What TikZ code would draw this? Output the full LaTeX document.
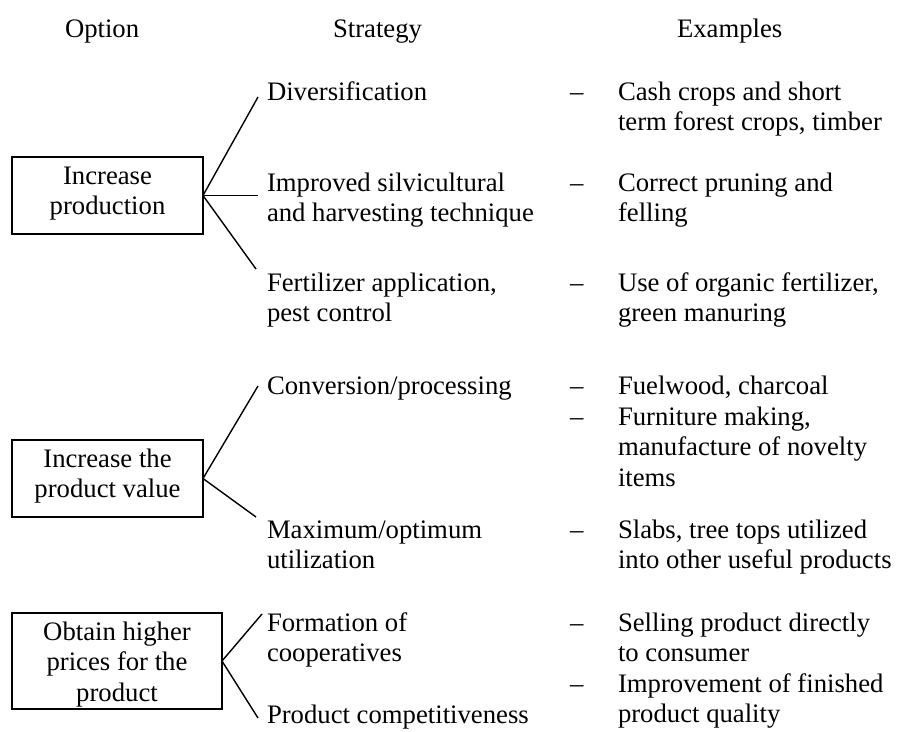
\documentclass[tikz,border=0pt]{standalone}
\usepackage{fontspec}
\setmainfont{Liberation Serif}
\newcommand\leftlines[1]{\vtop{\halign{##\hfil\cr#1\crcr}}}
\newcommand\ctrlines[1]{\vtop{\halign{\hfil##\hfil\cr#1\crcr}}}
\begin{document}
\begin{tikzpicture}[x=1pt,y=-1pt,
  every node/.style={font=\fontsize{26.7}{30.7}\selectfont, inner sep=0pt, outer sep=0pt},
  txt/.style={anchor=base west},
  ctr/.style={anchor=base},
  optbox/.style={draw, line width=1.4pt},
  conn/.style={line width=1.4pt}
]
\useasboundingbox (0,0) rectangle (907,731);

% headers
\node[txt] (hopt) at (65,37) {Option};
\node[txt] (hstr) at (333,37) {Strategy};
\node[txt] (hex) at (677,37) {Examples};

% option boxes
\node[optbox, minimum width=191pt, minimum height=77pt] (o1) at (107.5,195.5) {};
\node[ctr] (o1t) at (107.5,184) {\ctrlines{Increase\cr production}};
\node[optbox, minimum width=191pt, minimum height=77pt] (o2) at (107.5,478.5) {};
\node[ctr] (o2t) at (107.5,467) {\ctrlines{Increase the\cr product value}};
\node[optbox, minimum width=210pt, minimum height=96pt] (o3) at (117,661) {};
\node[ctr] (o3t) at (117,640) {\ctrlines{Obtain higher\cr prices for the\cr product}};

% strategies
\node[txt] (s1) at (267,100) {Diversification};
\node[txt] (s2) at (267,191) {\leftlines{Improved silvicultural\cr and harvesting technique}};
\node[txt] (s3) at (267,291) {\leftlines{Fertilizer application,\cr pest control}};
\node[txt] (s4) at (267,394) {Conversion/processing};
\node[txt] (s5) at (267,538) {\leftlines{Maximum/optimum\cr utilization}};
\node[txt] (s6) at (267,631) {\leftlines{Formation of\cr cooperatives}};
\node[txt] (s7) at (267,723) {Product competitiveness};

% dashes
\node[txt] (d1) at (570,100) {–};
\node[txt] (d2) at (570,191) {–};
\node[txt] (d3) at (570,291) {–};
\node[txt] (d4) at (570,394) {–};
\node[txt] (d5) at (570,425) {–};
\node[txt] (d6) at (570,538) {–};
\node[txt] (d7) at (570,631) {–};
\node[txt] (d8) at (570,692) {–};

% examples
\node[txt] (e1) at (618,100) {\leftlines{Cash crops and short\cr term forest crops, timber}};
\node[txt] (e2) at (618,191) {\leftlines{Correct pruning and\cr felling}};
\node[txt] (e3) at (618,291) {\leftlines{Use of organic fertilizer,\cr green manuring}};
\node[txt] (e4) at (618,394) {Fuelwood, charcoal};
\node[txt] (e5) at (618,425) {\leftlines{Furniture making,\cr manufacture of novelty\cr items}};
\node[txt] (e6) at (618,538) {\leftlines{Slabs, tree tops utilized\cr into other useful products}};
\node[txt] (e7) at (618,631) {\leftlines{Selling product directly\cr to consumer}};
\node[txt] (e8) at (618,692) {\leftlines{Improvement of finished\cr product quality}};

% connector end points
\coordinate (c1) at (258,97);
\coordinate (c2) at (258,195.5);
\coordinate (c3) at (256,269);
\coordinate (c4) at (258,386);
\coordinate (c5) at (256,517);
\coordinate (c6) at (262,614);
\coordinate (c7) at (258,718);

\draw[conn] (o1.east) -- (c1);
\draw[conn] (o1.east) -- (c2);
\draw[conn] (o1.east) -- (c3);
\draw[conn] (o2.east) -- (c4);
\draw[conn] (o2.east) -- (c5);
\draw[conn] (o3.east) -- (c6);
\draw[conn] (o3.east) -- (c7);
\end{tikzpicture}
\end{document}
